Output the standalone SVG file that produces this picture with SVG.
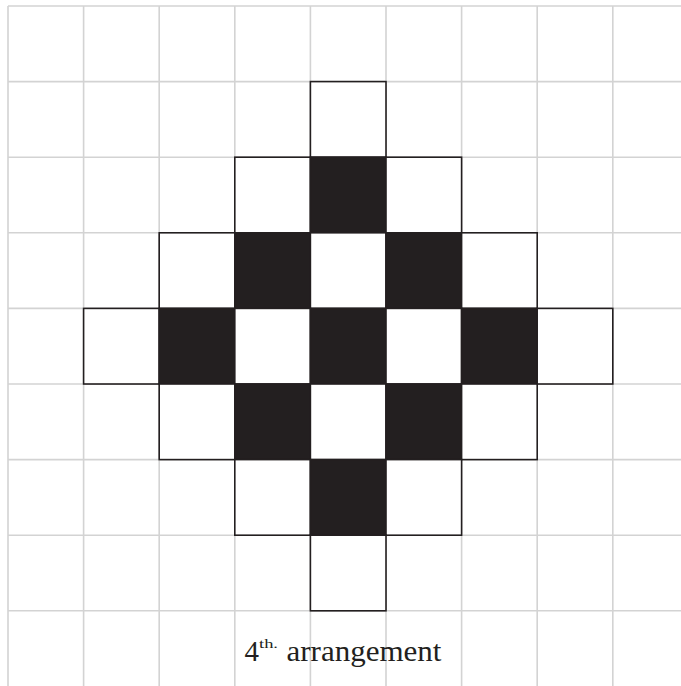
<svg xmlns="http://www.w3.org/2000/svg" width="681" height="686" viewBox="0 0 681 686">
<style>
.g{stroke:#d3d3d3;stroke-width:1.6;fill:none}
.w{fill:#ffffff;stroke:#231f20;stroke-width:1.6}
.b{fill:#231f20;stroke:#231f20;stroke-width:1.6}
.t{font-family:"Liberation Serif","Times New Roman",serif;fill:#231f20}
</style>
<rect width="681" height="686" fill="#ffffff"/>
<g id="grid" class="g">
<path d="M8 6V686M83.6 6V686M159.2 6V686M234.8 6V686M310.4 6V686M386 6V686M461.6 6V686M537.2 6V686M612.8 6V686"/>
<path d="M8 6H681M8 81.6H681M8 157.2H681M8 232.8H681M8 308.4H681M8 384H681M8 459.6H681M8 535.2H681M8 610.8H681"/>
</g>
<g id="cells">
<rect class="w" x="310.4" y="81.6" width="75.6" height="75.6"/>
<rect class="w" x="234.8" y="157.2" width="75.6" height="75.6"/>
<rect class="b" x="310.4" y="157.2" width="75.6" height="75.6"/>
<rect class="w" x="386" y="157.2" width="75.6" height="75.6"/>
<rect class="w" x="159.2" y="232.8" width="75.6" height="75.6"/>
<rect class="b" x="234.8" y="232.8" width="75.6" height="75.6"/>
<rect class="w" x="310.4" y="232.8" width="75.6" height="75.6"/>
<rect class="b" x="386" y="232.8" width="75.6" height="75.6"/>
<rect class="w" x="461.6" y="232.8" width="75.6" height="75.6"/>
<rect class="w" x="83.6" y="308.4" width="75.6" height="75.6"/>
<rect class="b" x="159.2" y="308.4" width="75.6" height="75.6"/>
<rect class="w" x="234.8" y="308.4" width="75.6" height="75.6"/>
<rect class="b" x="310.4" y="308.4" width="75.6" height="75.6"/>
<rect class="w" x="386" y="308.4" width="75.6" height="75.6"/>
<rect class="b" x="461.6" y="308.4" width="75.6" height="75.6"/>
<rect class="w" x="537.2" y="308.4" width="75.6" height="75.6"/>
<rect class="w" x="159.2" y="384" width="75.6" height="75.6"/>
<rect class="b" x="234.8" y="384" width="75.6" height="75.6"/>
<rect class="w" x="310.4" y="384" width="75.6" height="75.6"/>
<rect class="b" x="386" y="384" width="75.6" height="75.6"/>
<rect class="w" x="461.6" y="384" width="75.6" height="75.6"/>
<rect class="w" x="234.8" y="459.6" width="75.6" height="75.6"/>
<rect class="b" x="310.4" y="459.6" width="75.6" height="75.6"/>
<rect class="w" x="386" y="459.6" width="75.6" height="75.6"/>
<rect class="w" x="310.4" y="535.2" width="75.6" height="75.6"/>
</g>
<g id="label">
<text class="t" x="244.5" y="661" font-size="29">4</text>
<text class="t" x="259" y="648" font-size="13" textLength="19" lengthAdjust="spacingAndGlyphs">th.</text>
<text class="t" x="286.5" y="661" font-size="30" textLength="155" lengthAdjust="spacingAndGlyphs">arrangement</text>
</g>
</svg>
